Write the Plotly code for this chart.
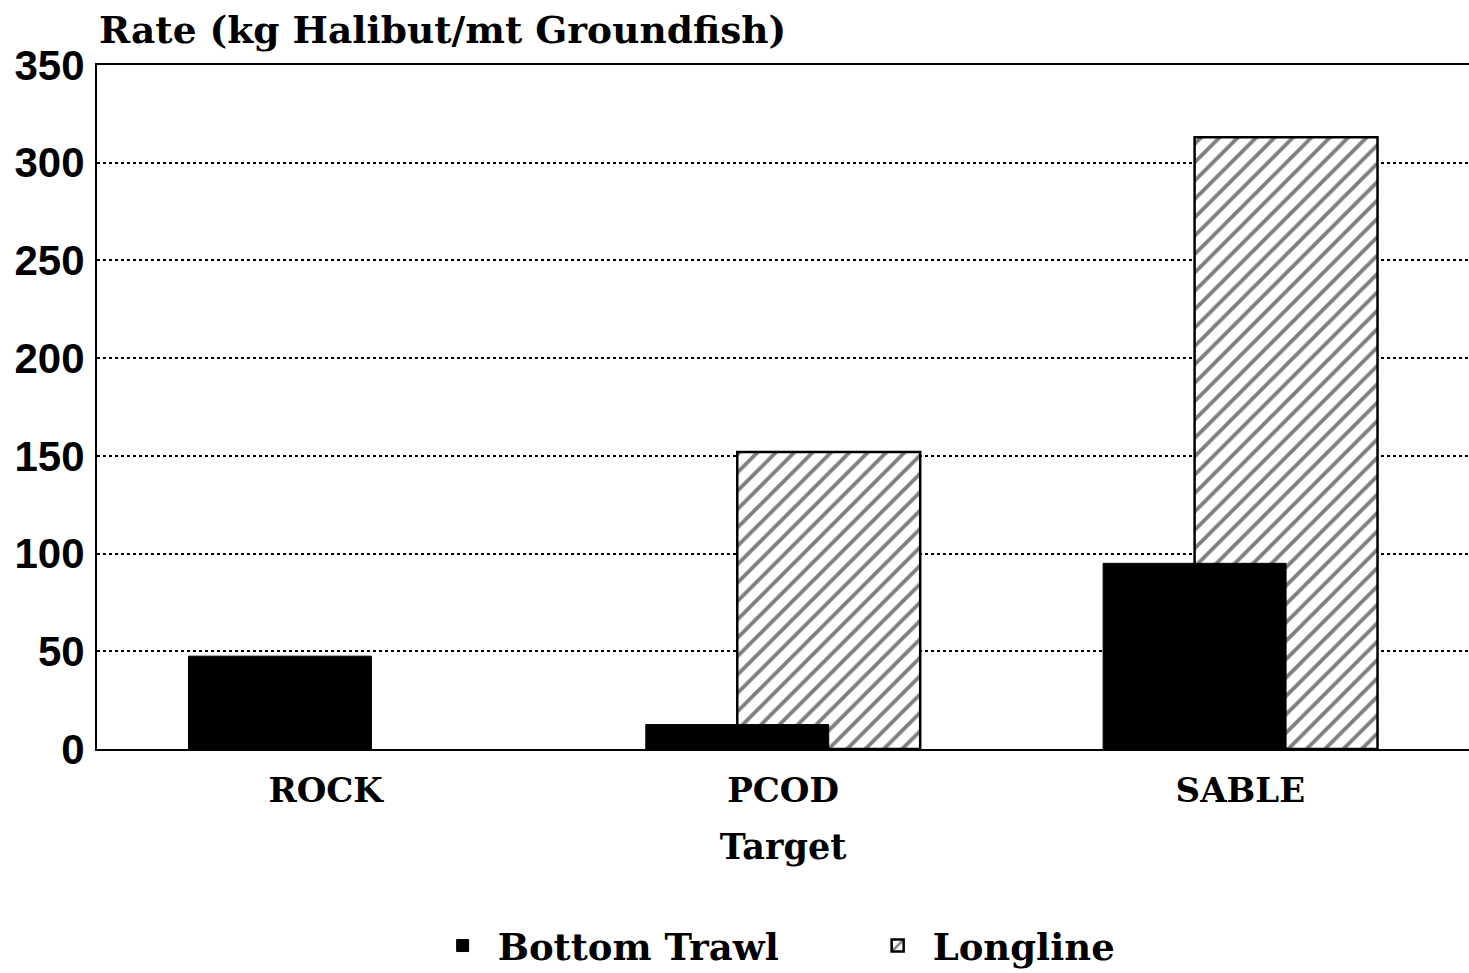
import plotly.graph_objects as go

categories = ["ROCK", "PCOD", "SABLE"]
bottom_trawl = [47.5, 12.5, 95]
longline = [None, 152, 313]
y_ticks = [0, 50, 100, 150, 200, 250, 300, 350]

label_font = "DejaVu Serif"
num_font = "Liberation Sans"

fig = go.Figure()
# Longline drawn first so the trawl bars sit in front
fig.add_trace(go.Bar(
    x=categories, y=longline, name="Longline",
    width=0.4, offset=-0.1,
    marker=dict(color="white", line=dict(color="black", width=2.5),
                pattern=dict(shape="/", fgcolor="black", bgcolor="white",
                             size=13, solidity=0.3, fillmode="overlay")),
    legendrank=2,
))
fig.add_trace(go.Bar(
    x=categories, y=bottom_trawl, name="Bottom Trawl",
    width=0.4, offset=-0.3,
    marker=dict(color="black", line=dict(color="black", width=1)),
    legendrank=1,
))

fig.update_layout(
    width=1469, height=973,
    barmode="overlay",
    plot_bgcolor="white", paper_bgcolor="white",
    margin=dict(l=97, r=0, t=65, b=224, autoexpand=False),
    font=dict(family=label_font, color="black"),
    showlegend=True,
    legend=dict(orientation="h", x=0.241, xanchor="left", y=-0.288, yanchor="middle",
                font=dict(family=label_font, size=37, color="black", weight="bold"),
                itemwidth=60, traceorder="normal", entrywidth=360),
    annotations=[dict(text="Rate (kg Halibut/mt Groundfish)", xref="paper", yref="paper",
                      x=0, y=1, xanchor="left", yanchor="middle", yshift=35, showarrow=False,
                      font=dict(family=label_font, size=37.5, color="black", weight="bold"))],
)
fig.update_xaxes(
    range=[-0.5, 2.5], showline=True, linecolor="black", linewidth=2, mirror=True,
    ticks="", showgrid=False, automargin=False, ticklabelstandoff=10,
    tickfont=dict(family=label_font, size=34, color="black", weight="bold"),
    title=dict(text="Target", font=dict(family=label_font, size=35, color="black", weight="bold"),
               standoff=26),
)
fig.update_yaxes(
    range=[0, 350], tickvals=y_ticks, showline=True, linecolor="black", linewidth=2,
    ticks="", ticklabelstandoff=2,
    showgrid=True, gridcolor="black", gridwidth=1.5, griddash="dot",
    zeroline=False, automargin=False,
    tickfont=dict(family=num_font, size=42, color="black", weight="bold"),
)

fig.write_html("out.html", config={"displayModeBar": False},
               post_script="document.body.style.margin='0';")
